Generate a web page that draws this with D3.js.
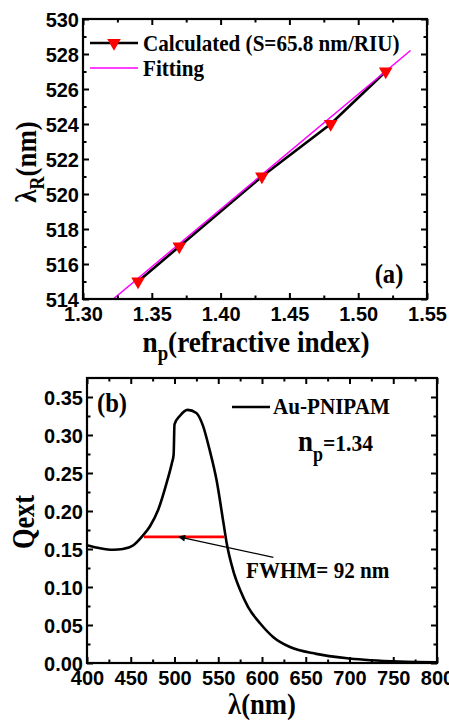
<!DOCTYPE html>
<html>
<head>
<meta charset="utf-8">
<script src="https://cdn.jsdelivr.net/npm/d3@7/dist/d3.min.js"></script>
<style>
  html, body { margin: 0; padding: 0; background: #fff; }
  svg { display: block; }
  .tick text { font-family: "Liberation Sans", Arial, sans-serif; font-weight: bold; font-size: 20px; fill: #000; }
  .serif { font-family: "Liberation Serif", "Times New Roman", serif; font-weight: bold; fill: #000; }
</style>
</head>
<body>
<svg id="chart" width="449" height="720"></svg>
<script>
// ---- Panel (a): resonance wavelength vs. particle refractive index ----
const npValues = [1.34, 1.37, 1.43, 1.48, 1.52];
const lambdaR = [515, 517, 521, 524, 527];
const fitX = [1.322, 1.538];
const fitY = [514.0, 528.2];
const aXTicks = [1.30, 1.35, 1.40, 1.45, 1.50, 1.55];
const aXMinor = [1.325, 1.375, 1.425, 1.475, 1.525];
const aYTicks = [514, 516, 518, 520, 522, 524, 526, 528, 530];
const aYMinor = [515, 517, 519, 521, 523, 525, 527, 529];

// ---- Panel (b): extinction spectrum of Au-PNIPAM at n_p = 1.34 ----
const wavelength = [400, 415, 430, 441, 453, 462.5, 472, 481.5, 491, 497, 499, 500, 506, 515, 525, 532.6, 540, 548, 556, 559.6, 567, 575, 584, 598, 613, 632, 662, 700, 757, 800];
const qext = [0.155, 0.151, 0.149, 0.150, 0.155, 0.166, 0.180, 0.202, 0.237, 0.263, 0.274, 0.314, 0.325, 0.333, 0.329, 0.312, 0.281, 0.241, 0.184, 0.158, 0.122, 0.096, 0.074, 0.052, 0.034, 0.021, 0.012, 0.006, 0.002, 0.001];
const fwhmRange = [465, 557];
const fwhmLevel = 0.166;
const arrowFrom = [613, 0.139];
const arrowTo = [505, 0.166];
const bXTicks = [400, 450, 500, 550, 600, 650, 700, 750, 800];
const bXMinor = [425, 475, 525, 575, 625, 675, 725, 775];
const bYTicks = [0.00, 0.05, 0.10, 0.15, 0.20, 0.25, 0.30, 0.35];
const bYMinor = [0.025, 0.075, 0.125, 0.175, 0.225, 0.275, 0.325];

const svg = d3.select("#chart");

// Bold serif text, narrowed along its run by sx and optionally rotated.
function serifText(x, y, size, sx, anchor, rot) {
  const t = `translate(${x},${y})` + (rot ? ` rotate(${rot})` : "") + ` scale(${sx},1)`;
  return svg.append("text").attr("class", "serif")
    .attr("transform", t)
    .attr("text-anchor", anchor || "start")
    .attr("font-size", size);
}

// Draws a framed box with inward major/minor ticks on all four sides.
function frame(x, y, xMaj, xMin, yMaj, yMin, xFmt, yFmt) {
  const [x0, x1] = x.range();
  const [y0, y1] = y.range(); // y0 bottom, y1 top
  const g = svg.append("g");
  const put = (axis, tx, ty) => {
    const a = g.append("g").attr("transform", `translate(${tx},${ty})`).call(axis);
    a.select(".domain").remove();
    a.selectAll(".tick line").attr("stroke", "#000").attr("stroke-width", 2);
    return a;
  };
  const bx = put(d3.axisBottom(x).tickValues(xMaj).tickSize(-6).tickPadding(4).tickFormat(xFmt), 0, y0);
  bx.selectAll(".tick text").attr("dy", "0.9em");
  put(d3.axisBottom(x).tickValues(xMin).tickSize(-3.5).tickFormat(""), 0, y0);
  put(d3.axisTop(x).tickValues(xMaj).tickSize(-6).tickFormat(""), 0, y1);
  put(d3.axisTop(x).tickValues(xMin).tickSize(-3.5).tickFormat(""), 0, y1);
  const ly = put(d3.axisLeft(y).tickValues(yMaj).tickSize(-6).tickPadding(4).tickFormat(yFmt), x0, 0);
  ly.selectAll(".tick text").attr("dy", "0.36em");
  put(d3.axisLeft(y).tickValues(yMin).tickSize(-3.5).tickFormat(""), x0, 0);
  put(d3.axisRight(y).tickValues(yMaj).tickSize(-6).tickFormat(""), x1, 0);
  put(d3.axisRight(y).tickValues(yMin).tickSize(-3.5).tickFormat(""), x1, 0);
  g.append("rect")
    .attr("x", x0).attr("y", y1)
    .attr("width", x1 - x0).attr("height", y0 - y1)
    .attr("fill", "none").attr("stroke", "#000").attr("stroke-width", 2.2);
  return g;
}

// ===== Panel (a) =====
const xA = d3.scaleLinear().domain([1.30, 1.55]).range([83, 427]);
const yA = d3.scaleLinear().domain([514, 530]).range([299, 19]);

svg.append("clipPath").attr("id", "clipA")
  .append("rect").attr("x", 83).attr("y", 19).attr("width", 344).attr("height", 280);

const calc = npValues.map((v, i) => [v, lambdaR[i]]);
svg.append("path")
  .datum(calc)
  .attr("d", d3.line().x(d => xA(d[0])).y(d => yA(d[1])))
  .attr("fill", "none").attr("stroke", "#000").attr("stroke-width", 2.6);

svg.append("path")
  .datum(fitX.map((v, i) => [v, fitY[i]]))
  .attr("clip-path", "url(#clipA)")
  .attr("d", d3.line().x(d => xA(d[0])).y(d => yA(d[1])))
  .attr("fill", "none").attr("stroke", "#ff00ff").attr("stroke-width", 1.5);

const tri = d3.symbol().type(d3.symbolTriangle).size(80);
svg.selectAll(".mkA").data(calc).enter().append("path")
  .attr("class", "mkA")
  .attr("d", tri)
  .attr("transform", d => `translate(${xA(d[0])},${yA(d[1])}) rotate(180)`)
  .attr("fill", "#ff0000");

frame(xA, yA, aXTicks, aXMinor, aYTicks, aYMinor, d3.format(".2f"), d3.format("d"));

// legend (a)
svg.append("line").attr("x1", 90).attr("x2", 138).attr("y1", 43).attr("y2", 43)
  .attr("stroke", "#000").attr("stroke-width", 2.6);
svg.append("path").attr("d", tri)
  .attr("transform", "translate(114,43) rotate(180)").attr("fill", "#ff0000");
serifText(143, 51, 24, 0.88).text("Calculated (S=65.8 nm/RIU)");
svg.append("line").attr("x1", 90).attr("x2", 138).attr("y1", 68).attr("y2", 68)
  .attr("stroke", "#ff00ff").attr("stroke-width", 1.5);
serifText(143, 76, 24, 0.88).text("Fitting");

serifText(389, 283, 28, 0.88, "middle").text("(a)");

// axis titles (a)
const tA = serifText(256, 352, 29, 0.94, "middle");
tA.append("tspan").text("n");
tA.append("tspan").attr("dy", 8).attr("font-size", 20).text("p");
tA.append("tspan").attr("dy", -8).text("(refractive index)");

const yTA = serifText(36, 162, 30, 0.9, "middle", -90);
yTA.append("tspan").text("λ");
yTA.append("tspan").attr("dy", 8).attr("font-size", 20).text("R");
yTA.append("tspan").attr("dy", -8).text("(nm)");

// ===== Panel (b) =====
const xB = d3.scaleLinear().domain([400, 800]).range([87, 437]);
const yB = d3.scaleLinear().domain([0, 0.375]).range([663, 378]);

svg.append("path")
  .datum(wavelength.map((v, i) => [v, qext[i]]))
  .attr("d", d3.line().curve(d3.curveMonotoneX).x(d => xB(d[0])).y(d => yB(d[1])))
  .attr("fill", "none").attr("stroke", "#000").attr("stroke-width", 2.6);

svg.append("line")
  .attr("x1", xB(fwhmRange[0])).attr("x2", xB(fwhmRange[1]))
  .attr("y1", yB(fwhmLevel)).attr("y2", yB(fwhmLevel))
  .attr("stroke", "#ff0000").attr("stroke-width", 2.6);

// arrow pointing at the FWHM bar
svg.append("defs").append("marker")
  .attr("id", "arrowHead").attr("viewBox", "0 0 10 10")
  .attr("refX", 9).attr("refY", 5)
  .attr("markerWidth", 10).attr("markerHeight", 7)
  .attr("markerUnits", "userSpaceOnUse")
  .attr("orient", "auto")
  .append("path").attr("d", "M0,0 L10,5 L0,10 Z").attr("fill", "#000");
svg.append("line")
  .attr("x1", xB(arrowFrom[0])).attr("y1", yB(arrowFrom[1]))
  .attr("x2", xB(arrowTo[0])).attr("y2", yB(arrowTo[1]))
  .attr("stroke", "#000").attr("stroke-width", 1.3)
  .attr("marker-end", "url(#arrowHead)");

frame(xB, yB, bXTicks, bXMinor, bYTicks, bYMinor, d3.format("d"), d3.format(".2f"));

// legend and notes (b)
svg.append("line").attr("x1", 232).attr("x2", 270).attr("y1", 407).attr("y2", 407)
  .attr("stroke", "#000").attr("stroke-width", 2.6);
serifText(273, 414, 24, 0.88).text("Au-PNIPAM");

const npT = serifText(298, 451, 24, 0.9);
npT.append("tspan").attr("font-size", 30).text("n");
npT.append("tspan").attr("dy", 10).attr("font-size", 20).text("p");
npT.append("tspan").attr("dy", -10).text("=1.34");

serifText(246, 578, 24, 0.88).text("FWHM= 92 nm");

serifText(112, 412, 28, 0.88, "middle").text("(b)");

// axis titles (b)
serifText(34, 522, 31, 0.85, "middle", -90).text("Qext");

serifText(262, 714, 29, 0.92, "middle").text("λ(nm)");
</script>
</body>
</html>
